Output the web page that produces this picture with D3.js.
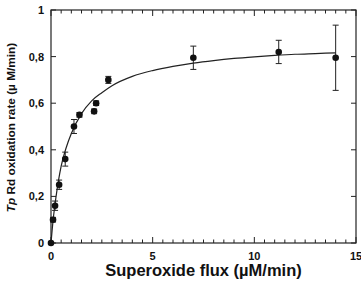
<!DOCTYPE html>
<html>
<head>
<meta charset="utf-8">
<script src="https://cdn.jsdelivr.net/npm/d3@7"></script>
<style>
  body { margin: 0; background: #fff; }
  text { font-family: "Liberation Sans", Arial, sans-serif; font-weight: bold; fill: #111; }
</style>
</head>
<body>
<svg width="361" height="283"></svg>
<script>
// measured points (flux, rate, error)
var flux = [0, 0.1, 0.2, 0.4, 0.7, 1.13, 1.4, 2.12, 2.22, 2.82, 7.0, 11.2, 14.0];
var rate = [0, 0.10, 0.16, 0.25, 0.36, 0.50, 0.55, 0.565, 0.60, 0.70, 0.795, 0.82, 0.795];
var err  = [0, 0.01, 0.02, 0.02, 0.03, 0.03, 0.01, 0.01, 0.01, 0.015, 0.05, 0.05, 0.14];

// fitted curve
var fitX = [0, 0.1, 0.25, 0.5, 0.75, 1, 1.5, 2, 2.5, 3, 4, 5, 6, 7, 8, 9, 10, 11, 12, 13, 14];
var fitY = [0, 0.095, 0.20, 0.33, 0.41, 0.47, 0.555, 0.61, 0.645, 0.675, 0.715, 0.74, 0.758, 0.772, 0.783, 0.792, 0.799, 0.805, 0.81, 0.813, 0.816];

var xTicks = [0, 5, 10, 15];
var yTicks = [0, 0.2, 0.4, 0.6, 0.8, 1];

var svg = d3.select("svg");
var padding = {l: 51, r: 5, t: 10, b: 40};
var W = +svg.attr("width"), H = +svg.attr("height");

var x = d3.scaleLinear().domain([0, 15]).range([padding.l, W - padding.r]);
var y = d3.scaleLinear().domain([0, 1]).range([H - padding.b, padding.t]);

var fmt = function(d) { return d === 0 || d === 1 ? String(d) : d.toFixed(1).replace(".", ","); };

// frame
svg.append("rect")
	.attr("x", x(0)).attr("y", y(1))
	.attr("width", x(15) - x(0)).attr("height", y(0) - y(1))
	.attr("fill", "none").attr("stroke", "#222").attr("stroke-width", 1.2);

// minor ticks on x (inward), bottom and top
var minor = d3.range(0, 15.01, 0.5);
svg.append("g").selectAll("line.bx").data(minor).join("line")
	.attr("x1", d => x(d)).attr("x2", d => x(d))
	.attr("y1", y(0)).attr("y2", d => y(0) - (d % 5 === 0 ? 6 : 3.5))
	.attr("stroke", "#222");
svg.append("g").selectAll("line.tx").data(minor).join("line")
	.attr("x1", d => x(d)).attr("x2", d => x(d))
	.attr("y1", y(1)).attr("y2", d => y(1) + (d % 5 === 0 ? 6 : 3.5))
	.attr("stroke", "#222");
// y ticks (inward) left and right
svg.append("g").selectAll("line").data(yTicks).join("line")
	.attr("x1", x(0)).attr("x2", x(0) + 5)
	.attr("y1", d => y(d)).attr("y2", d => y(d)).attr("stroke", "#222");
svg.append("g").selectAll("line").data(yTicks).join("line")
	.attr("x1", x(15)).attr("x2", x(15) - 5)
	.attr("y1", d => y(d)).attr("y2", d => y(d)).attr("stroke", "#222");

// tick labels
svg.append("g").selectAll("text").data(xTicks).join("text")
	.attr("x", d => x(d)).attr("y", y(0) + 17)
	.attr("text-anchor", "middle").style("font-size", "11px")
	.text(d => d);
svg.append("g").selectAll("text").data(yTicks).join("text")
	.attr("x", x(0) - 7).attr("y", d => y(d) + 4)
	.attr("text-anchor", "end").style("font-size", "11px")
	.text(fmt);

// fit curve
var pts = fitX.map((d, i) => [d, fitY[i]]);
svg.append("path")
	.datum(pts)
	.attr("d", d3.line().x(d => x(d[0])).y(d => y(d[1])).curve(d3.curveMonotoneX))
	.attr("fill", "none").attr("stroke", "#222").attr("stroke-width", 1.2);

// error bars
var data = flux.map((d, i) => ({f: d, r: rate[i], e: err[i]}));
var eb = svg.append("g").attr("stroke", "#222").attr("stroke-width", 1);
eb.selectAll("line.v").data(data.filter(d => d.e > 0)).join("line")
	.attr("x1", d => x(d.f)).attr("x2", d => x(d.f))
	.attr("y1", d => y(d.r + d.e)).attr("y2", d => y(d.r - d.e));
eb.selectAll("line.c1").data(data.filter(d => d.e > 0)).join("line")
	.attr("x1", d => x(d.f) - 3).attr("x2", d => x(d.f) + 3)
	.attr("y1", d => y(d.r + d.e)).attr("y2", d => y(d.r + d.e));
eb.selectAll("line.c2").data(data.filter(d => d.e > 0)).join("line")
	.attr("x1", d => x(d.f) - 3).attr("x2", d => x(d.f) + 3)
	.attr("y1", d => y(d.r - d.e)).attr("y2", d => y(d.r - d.e));

// points
svg.append("g").selectAll("circle").data(data).join("circle")
	.attr("cx", d => x(d.f)).attr("cy", d => y(d.r))
	.attr("r", 3.3).attr("fill", "#111");

// axis titles
svg.append("text")
	.attr("x", (x(0) + x(15)) / 2).attr("y", H - 7)
	.attr("text-anchor", "middle").style("font-size", "16.5px")
	.text("Superoxide flux (µM/min)");

var yt = svg.append("text")
	.attr("transform", "translate(15," + ((y(0) + y(1)) / 2 + 1) + ") rotate(-90)")
	.attr("text-anchor", "middle").style("font-size", "11.8px");
yt.append("tspan").style("font-style", "italic").text("Tp");
yt.append("tspan").text(" Rd oxidation rate (µ M/min)");
</script>
</body>
</html>
